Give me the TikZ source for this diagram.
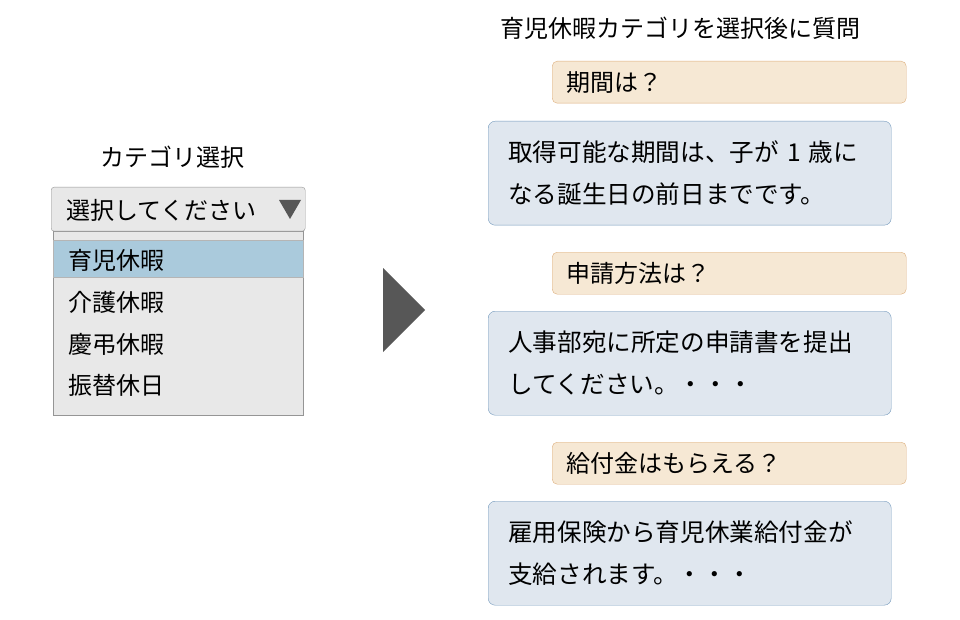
\documentclass[tikz,border=0pt]{standalone}
\usepackage{fontspec}
\setmainfont{Noto Sans CJK JP}
\definecolor{boxgray}{HTML}{E8E8E8}
\definecolor{linegray}{HTML}{959595}
\definecolor{pickblue}{HTML}{AACADC}
\definecolor{askfill}{HTML}{F6E8D4}
\definecolor{askline}{HTML}{DDAE7C}
\definecolor{ansfill}{HTML}{E0E7EF}
\definecolor{ansline}{HTML}{7399BC}
\definecolor{arrowgray}{HTML}{575757}

\begin{document}
\begin{tikzpicture}
        [x=1pt,y=-1pt,every node/.style={font=\fontsize{24}{42}\selectfont},
         txt/.style={anchor=west,inner sep=0},
         askbox/.style={draw=askline,fill=askfill,rounded corners=5,anchor=north west,
           minimum width=354,minimum height=42,text width=326,inner xsep=14,align=left},
         ansbox/.style={draw=ansline,fill=ansfill,rounded corners=7,anchor=north west,
           minimum width=403,minimum height=104,text width=363,inner xsep=20,align=left,
           font=\fontsize{24.6}{42}\selectfont}]
        \useasboundingbox (0,0) rectangle (960,620);

        % category dropdown
        \node (cattitle) at (172,157) {カテゴリ選択};
        \node[draw=linegray,fill=boxgray,anchor=north west,minimum width=250,minimum height=184,inner sep=0] (list) at (53,231) {};
        \node[draw=linegray,fill=boxgray,rounded corners=3,anchor=north west,minimum width=254,minimum height=44,inner sep=0] (select) at (51,187) {};
        \node[draw=linegray!70,fill=pickblue,anchor=north west,minimum width=250,minimum height=37,inner sep=0] (pick) at (53,240) {};
        \node[txt] (seltext) at (66,210) {選択してください};
        \fill[arrowgray] (279,200) -- (301,200) -- (290,219) -- cycle;
        \node[txt] (item1) at (68,260) {育児休暇};
        \node[txt] (item2) at (68,302) {介護休暇};
        \node[txt] (item3) at (68,344) {慶弔休暇};
        \node[txt] (item4) at (68,385) {振替休日};

        % arrow
        \fill[arrowgray] (383,268) -- (425,310) -- (383,352) -- cycle;

        % questions and answers
        \node (qtitle) at (680,28) {育児休暇カテゴリを選択後に質問};
        \node[askbox] (q1) at (552,61) {期間は？};
        \node[ansbox] (a1) at (488,121) {取得可能な期間は、子が 1 歳に\\なる誕生日の前日までです。};
        \node[askbox] (q2) at (552,252) {申請方法は？};
        \node[ansbox] (a2) at (488,311) {人事部宛に所定の申請書を提出\\してください。・・・};
        \node[askbox] (q3) at (552,442) {給付金はもらえる？};
        \node[ansbox] (a3) at (488,501) {雇用保険から育児休業給付金が\\支給されます。・・・};
    \end{tikzpicture}
\end{document}
